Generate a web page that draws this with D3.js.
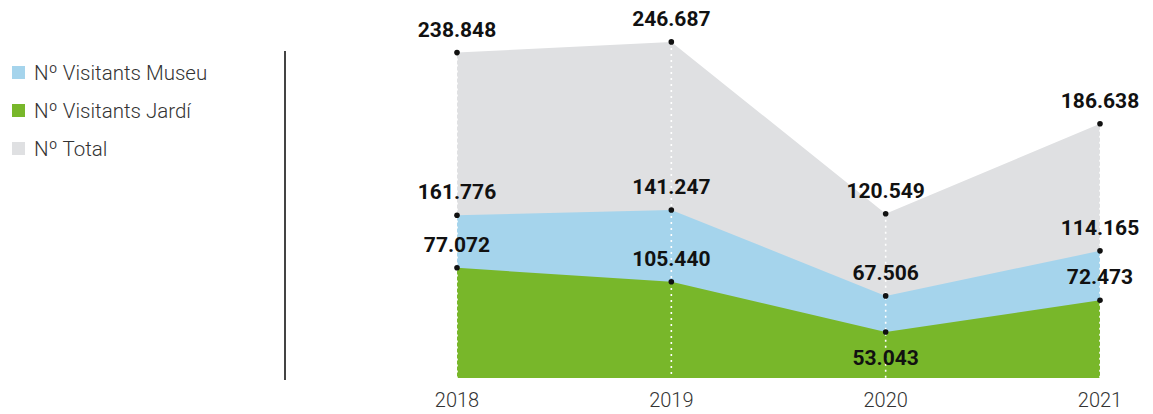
<!DOCTYPE html>
<html>
<head>
<meta charset="utf-8">
<script src="https://cdn.jsdelivr.net/npm/d3@7"></script>
<style>
  html, body { margin: 0; padding: 0; background: #fff; }
  svg { display: block; }
</style>
</head>
<body>
<svg id="chart" width="1153" height="414"></svg>
<script>
const years = [2018, 2019, 2020, 2021];
const museu = [161776, 141247, 67506, 114165];
const jardi = [77072, 105440, 53043, 72473];
const total = [238848, 246687, 120549, 186638];
const legendLabels = ["Nº Visitants Museu", "Nº Visitants Jardí", "Nº Total"];
const colors = { museu: "#a5d4ec", jardi: "#78b72a", total: "#dfe0e2" };

const fmt = v => d3.format(",")(v).replace(/,/g, ".");

const svg = d3.select("#chart");
const x = d3.scaleLinear().domain([2018, 2021]).range([457, 1100]);
const y = d3.scaleLinear().domain([0, 250000]).range([378, 37.4]);
// breakdown (museum / garden) drawn stacked on a half-size scale, as in the original
const yPart = d3.scaleLinear().domain([0, 500000]).range([378, 37.4]);

const rows = years.map((yr, i) => ({ yr, museu: museu[i], jardi: jardi[i], total: total[i] }));

// areas
svg.append("path").datum(rows)
  .attr("fill", colors.total)
  .attr("d", d3.area().x(d => x(d.yr)).y0(y(0)).y1(d => y(d.total)));
svg.append("path").datum(rows)
  .attr("fill", colors.museu)
  .attr("d", d3.area().x(d => x(d.yr)).y0(y(0)).y1(d => yPart(d.museu + d.jardi)));
svg.append("path").datum(rows)
  .attr("fill", colors.jardi)
  .attr("d", d3.area().x(d => x(d.yr)).y0(y(0)).y1(d => yPart(d.museu)));

// dotted white verticals
svg.selectAll("line.v").data(rows).join("line")
  .attr("x1", d => x(d.yr)).attr("x2", d => x(d.yr))
  .attr("y1", d => y(d.total)).attr("y2", y(0))
  .attr("stroke", "#fff").attr("stroke-width", 1.6)
  .attr("stroke-dasharray", "2,4");

// dots and labels
const pts = [];
rows.forEach(d => {
  pts.push({ x: x(d.yr), y: y(d.total), v: d.total, below: false });
  pts.push({ x: x(d.yr), y: yPart(d.museu + d.jardi), v: d.museu, below: false });
  pts.push({ x: x(d.yr), y: yPart(d.museu), v: d.jardi, below: d.yr === 2020 });
});
svg.selectAll("circle.pt").data(pts).join("circle")
  .attr("cx", d => d.x).attr("cy", d => d.y).attr("r", 2.8).attr("fill", "#111");
svg.selectAll("text.val").data(pts).join("text")
  .attr("x", d => d.x)
  .attr("y", d => d.below ? d.y + 33 : d.y - 16)
  .attr("text-anchor", "middle")
  .attr("font-family", "Roboto, sans-serif")
  .attr("font-weight", 700)
  .attr("font-size", 21)
  .attr("fill", "#111")
  .text(d => fmt(d.v));

// year labels
svg.selectAll("text.yr").data(years).join("text")
  .attr("x", d => x(d)).attr("y", 407)
  .attr("text-anchor", "middle")
  .attr("font-family", "Roboto, sans-serif")
  .attr("font-weight", 300)
  .attr("font-size", 20)
  .attr("fill", "#333")
  .text(d => d);

// separator line
svg.append("line").attr("x1", 285).attr("x2", 285).attr("y1", 51).attr("y2", 380)
  .attr("stroke", "#444").attr("stroke-width", 2);

// legend
const legColors = [colors.museu, colors.jardi, colors.total];
const leg = svg.selectAll("g.leg").data(legendLabels).join("g")
  .attr("transform", (d, i) => `translate(12, ${66 + i * 38})`);
leg.append("rect").attr("width", 13).attr("height", 13).attr("fill", (d, i) => legColors[i]);
leg.append("text").attr("x", 22).attr("y", 13.5)
  .attr("font-family", "Roboto, sans-serif")
  .attr("font-weight", 300)
  .attr("font-size", 20.5)
  .attr("fill", "#333")
  .text(d => d);
</script>
</body>
</html>
